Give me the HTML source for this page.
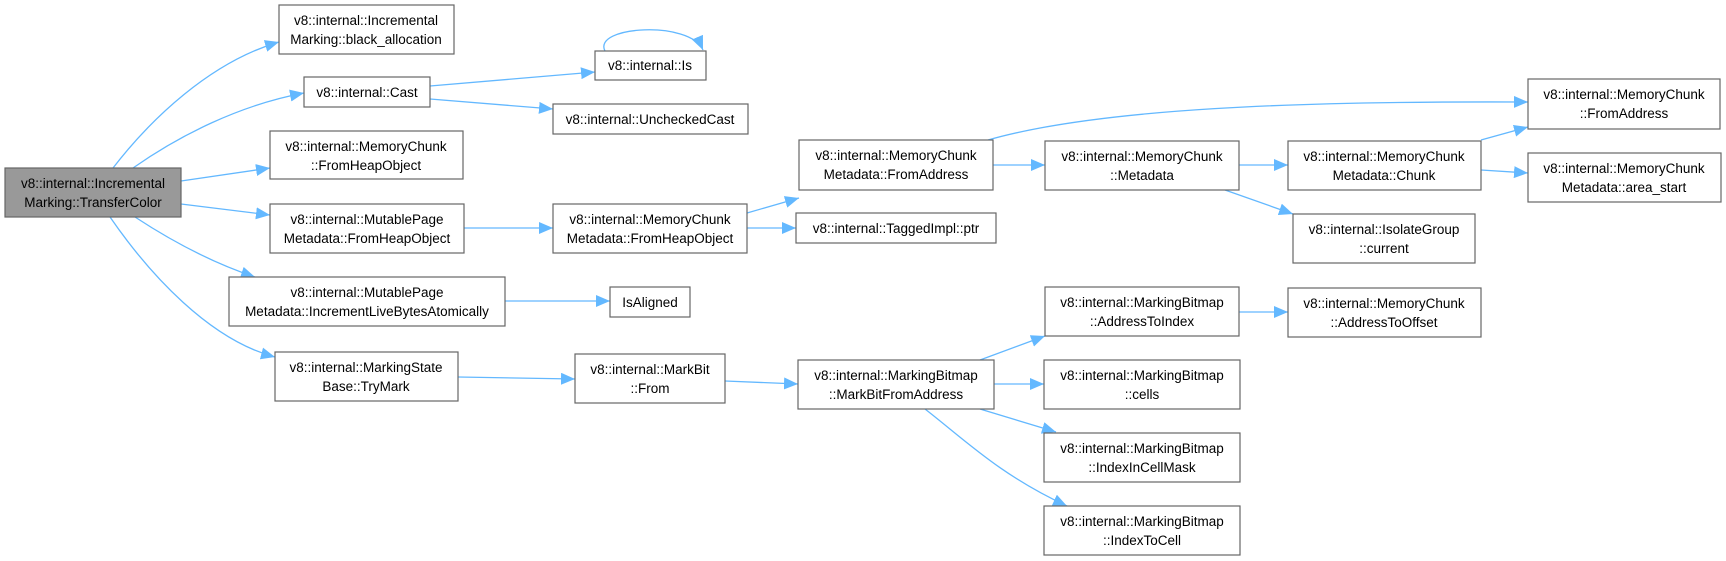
<!DOCTYPE html>
<html><head><meta charset="utf-8"><style>
html,body{margin:0;padding:0;background:#fff;}
svg{display:block;}
text{font-family:"Liberation Sans",sans-serif;font-size:13.5px;fill:#000;text-anchor:middle;}
.b{fill:#fff;stroke:#666;stroke-width:1.2;}
.e{fill:none;stroke:#63b8ff;stroke-width:1.3;marker-end:url(#a);}
</style></head><body>
<svg width="1726" height="561" viewBox="0 0 1726 561" xmlns="http://www.w3.org/2000/svg">
<defs><marker id="a" markerWidth="15" markerHeight="12" refX="14" refY="6" orient="auto" markerUnits="userSpaceOnUse"><path d="M0,0 L14,6 L0,12 z" fill="#63b8ff"/></marker></defs>

<path class="e" d="M113,168 C150,120 210,62 279,42"/>
<path class="e" d="M133,168 C180,135 240,105 304,93"/>
<path class="e" d="M181,181 L270,168"/>
<path class="e" d="M181,204 L270,215"/>
<path class="e" d="M135,217 C170,240 210,262 255,277"/>
<path class="e" d="M110,217 C150,275 210,340 275,357"/>
<path class="e" d="M430,86 L595,72"/>
<path class="e" d="M430,99 L553,109"/>
<path class="e" d="M605,51 C592,26 690,20 703,50"/>
<path class="e" d="M464,228 L553,228"/>
<path class="e" d="M747,213 L799,198"/>
<path class="e" d="M747,228 L796,228"/>
<path class="e" d="M988,140 C1100,108 1300,101 1528,102"/>
<path class="e" d="M993,165 L1045,165"/>
<path class="e" d="M1239,165 L1288,165"/>
<path class="e" d="M1225,190 L1293,214"/>
<path class="e" d="M1481,140 L1528,127"/>
<path class="e" d="M1481,170 L1528,173"/>
<path class="e" d="M505,301 L610,301"/>
<path class="e" d="M458,377 L575,379"/>
<path class="e" d="M725,381 L798,384"/>
<path class="e" d="M980,360 L1045,336"/>
<path class="e" d="M994,384 L1044,384"/>
<path class="e" d="M980,409 L1056,432"/>
<path class="e" d="M925,409 C965,440 1000,475 1067,506"/>
<path class="e" d="M1239,312 L1288,312"/>

<rect x="5" y="168" width="176" height="49" fill="#999" stroke="#666" stroke-width="1.2"/>
<text x="93" y="188">v8::internal::Incremental</text><text x="93" y="207">Marking::TransferColor</text>

<rect class="b" x="279" y="5" width="175" height="49"/>
<text x="366" y="25">v8::internal::Incremental</text><text x="366" y="44">Marking::black_allocation</text>

<rect class="b" x="304" y="77" width="126" height="30"/>
<text x="367" y="97">v8::internal::Cast</text>

<rect class="b" x="595" y="51" width="111" height="29"/>
<text x="650" y="70">v8::internal::Is</text>

<rect class="b" x="553" y="104" width="195" height="30"/>
<text x="650" y="124">v8::internal::UncheckedCast</text>

<rect class="b" x="270" y="131" width="193" height="48"/>
<text x="366" y="151">v8::internal::MemoryChunk</text><text x="366" y="170">::FromHeapObject</text>

<rect class="b" x="270" y="204" width="194" height="49"/>
<text x="367" y="224">v8::internal::MutablePage</text><text x="367" y="243">Metadata::FromHeapObject</text>

<rect class="b" x="229" y="277" width="276" height="49"/>
<text x="367" y="297">v8::internal::MutablePage</text><text x="367" y="316">Metadata::IncrementLiveBytesAtomically</text>

<rect class="b" x="610" y="287" width="80" height="30"/>
<text x="650" y="307">IsAligned</text>

<rect class="b" x="275" y="352" width="183" height="49"/>
<text x="366" y="372">v8::internal::MarkingState</text><text x="366" y="391">Base::TryMark</text>

<rect class="b" x="575" y="354" width="150" height="49"/>
<text x="650" y="374">v8::internal::MarkBit</text><text x="650" y="393">::From</text>

<rect class="b" x="553" y="204" width="194" height="49"/>
<text x="650" y="224">v8::internal::MemoryChunk</text><text x="650" y="243">Metadata::FromHeapObject</text>

<rect class="b" x="799" y="140" width="194" height="50"/>
<text x="896" y="160">v8::internal::MemoryChunk</text><text x="896" y="179">Metadata::FromAddress</text>

<rect class="b" x="796" y="213" width="200" height="30"/>
<text x="896" y="233">v8::internal::TaggedImpl::ptr</text>

<rect class="b" x="1045" y="141" width="194" height="49"/>
<text x="1142" y="161">v8::internal::MemoryChunk</text><text x="1142" y="180">::Metadata</text>

<rect class="b" x="1288" y="141" width="193" height="49"/>
<text x="1384" y="161">v8::internal::MemoryChunk</text><text x="1384" y="180">Metadata::Chunk</text>

<rect class="b" x="1528" y="79" width="192" height="50"/>
<text x="1624" y="99">v8::internal::MemoryChunk</text><text x="1624" y="118">::FromAddress</text>

<rect class="b" x="1528" y="153" width="193" height="49"/>
<text x="1624" y="173">v8::internal::MemoryChunk</text><text x="1624" y="192">Metadata::area_start</text>

<rect class="b" x="1293" y="214" width="182" height="49"/>
<text x="1384" y="234">v8::internal::IsolateGroup</text><text x="1384" y="253">::current</text>

<rect class="b" x="798" y="360" width="196" height="49"/>
<text x="896" y="380">v8::internal::MarkingBitmap</text><text x="896" y="399">::MarkBitFromAddress</text>

<rect class="b" x="1045" y="287" width="194" height="49"/>
<text x="1142" y="307">v8::internal::MarkingBitmap</text><text x="1142" y="326">::AddressToIndex</text>

<rect class="b" x="1288" y="288" width="193" height="49"/>
<text x="1384" y="308">v8::internal::MemoryChunk</text><text x="1384" y="327">::AddressToOffset</text>

<rect class="b" x="1044" y="360" width="196" height="49"/>
<text x="1142" y="380">v8::internal::MarkingBitmap</text><text x="1142" y="399">::cells</text>

<rect class="b" x="1044" y="433" width="196" height="49"/>
<text x="1142" y="453">v8::internal::MarkingBitmap</text><text x="1142" y="472">::IndexInCellMask</text>

<rect class="b" x="1044" y="506" width="196" height="49"/>
<text x="1142" y="526">v8::internal::MarkingBitmap</text><text x="1142" y="545">::IndexToCell</text>
</svg>
</body></html>
